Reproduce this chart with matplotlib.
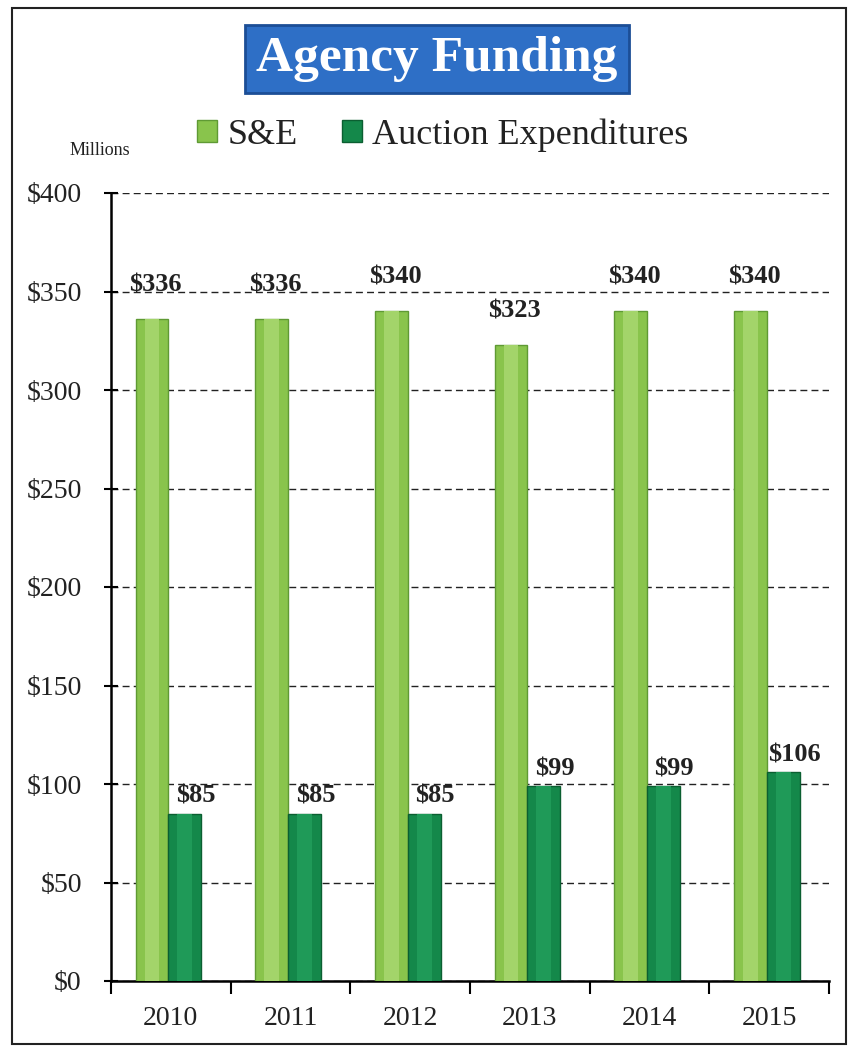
import matplotlib
matplotlib.use("Agg")
import matplotlib.pyplot as plt
import numpy as np
from matplotlib.patches import Rectangle

years = ["2010", "2011", "2012", "2013", "2014", "2015"]
se_values = [336, 336, 340, 323, 340, 340]
auction_values = [85, 85, 85, 99, 99, 106]
series_names = ["S&E", "Auction Expenditures"]
yticks = [0, 50, 100, 150, 200, 250, 300, 350, 400]

plt.rcParams['font.family'] = ['Liberation Serif', 'DejaVu Serif']

fig = plt.figure(figsize=(8.5, 10.46), dpi=100)
ax = fig.add_axes([111/850, 65/1046, (829-111)/850, (981-193)/1046])

x = np.arange(len(years))
w = 0.275
c_se = '#89c44c'
c_au = '#14884a'
b1 = ax.bar(x - w/2 - 0.02, se_values, w, color=c_se, edgecolor='#5f9a34', linewidth=1.0, zorder=3, label=series_names[0])
b2 = ax.bar(x + w/2 - 0.02, auction_values, w, color=c_au, edgecolor='#0b5f31', linewidth=1.0, zorder=3, label=series_names[1])

# subtle highlight stripes for the 3D look
for rects, col in ((b1, '#a3d46a'), (b2, '#1f9a58')):
    for r in rects:
        ax.bar(r.get_x() + r.get_width()*0.5, r.get_height(), r.get_width()*0.45,
               color=col, linewidth=0, zorder=3.5)

for rect, v in zip(b1, se_values):
    ax.annotate(f"${v}", (rect.get_x() + rect.get_width()/2 + 0.03, v), xytext=(0, 16),
                textcoords='offset points', ha='center', va='bottom', fontsize=19,
                fontweight='bold', color='#222222')
for rect, v in zip(b2, auction_values):
    ax.annotate(f"${v}", (rect.get_x() + rect.get_width()/2 + 0.09, v), xytext=(0, 4),
                textcoords='offset points', ha='center', va='bottom', fontsize=19,
                fontweight='bold', color='#222222')

ax.set_xlim(-0.5, len(years) - 0.5)
ax.set_ylim(0, 400)
ax.set_yticks(yticks)
ax.set_yticklabels([f"${t}" for t in yticks], fontsize=20, color='#222222')
ax.yaxis.grid(True, linestyle=(0, (5, 3)), color='#222222', linewidth=1.0, zorder=0)
ax.set_axisbelow(True)
ax.tick_params(axis='y', direction='inout', length=10, width=1.5, pad=16)

ax.set_xticks(x)
ax.set_xticklabels(years, fontsize=20, color='#222222')
ax.set_xticks(np.arange(len(years) + 1) - 0.5, minor=True)
ax.tick_params(axis='x', which='major', length=0, pad=18)
ax.tick_params(axis='x', which='minor', direction='out', length=9, width=1.5)

for s in ['top', 'right']:
    ax.spines[s].set_visible(False)
ax.spines['left'].set_linewidth(1.8)
ax.spines['bottom'].set_linewidth(1.8)

# title
fig.text(437/850, 1 - 59/1046, "Agency Funding", ha='center', va='center', fontsize=37,
         fontweight='bold', color='white',
         bbox=dict(boxstyle='square,pad=0.22', facecolor='#2e6fc6', edgecolor='#1c4e96', linewidth=2))

# legend
fig.legend(handles=[b1, b2], labels=series_names, loc='center', bbox_to_anchor=(443/850, 1 - 135/1046),
           ncol=2, frameon=False, fontsize=26, handlelength=0.55, handleheight=0.55,
           handletextpad=0.3, columnspacing=1.2, labelcolor='#222222')

fig.text(100/850, 1 - 150/1046, "Millions", ha='center', va='center', fontsize=13, color='#222222')

# outer frame
fig.patches.append(Rectangle((12/850, 2/1046), (846-12)/850, (1038-2)/1046, transform=fig.transFigure,
                             fill=False, edgecolor='#222222', linewidth=1.5))

fig.savefig("out.png", dpi=100)
